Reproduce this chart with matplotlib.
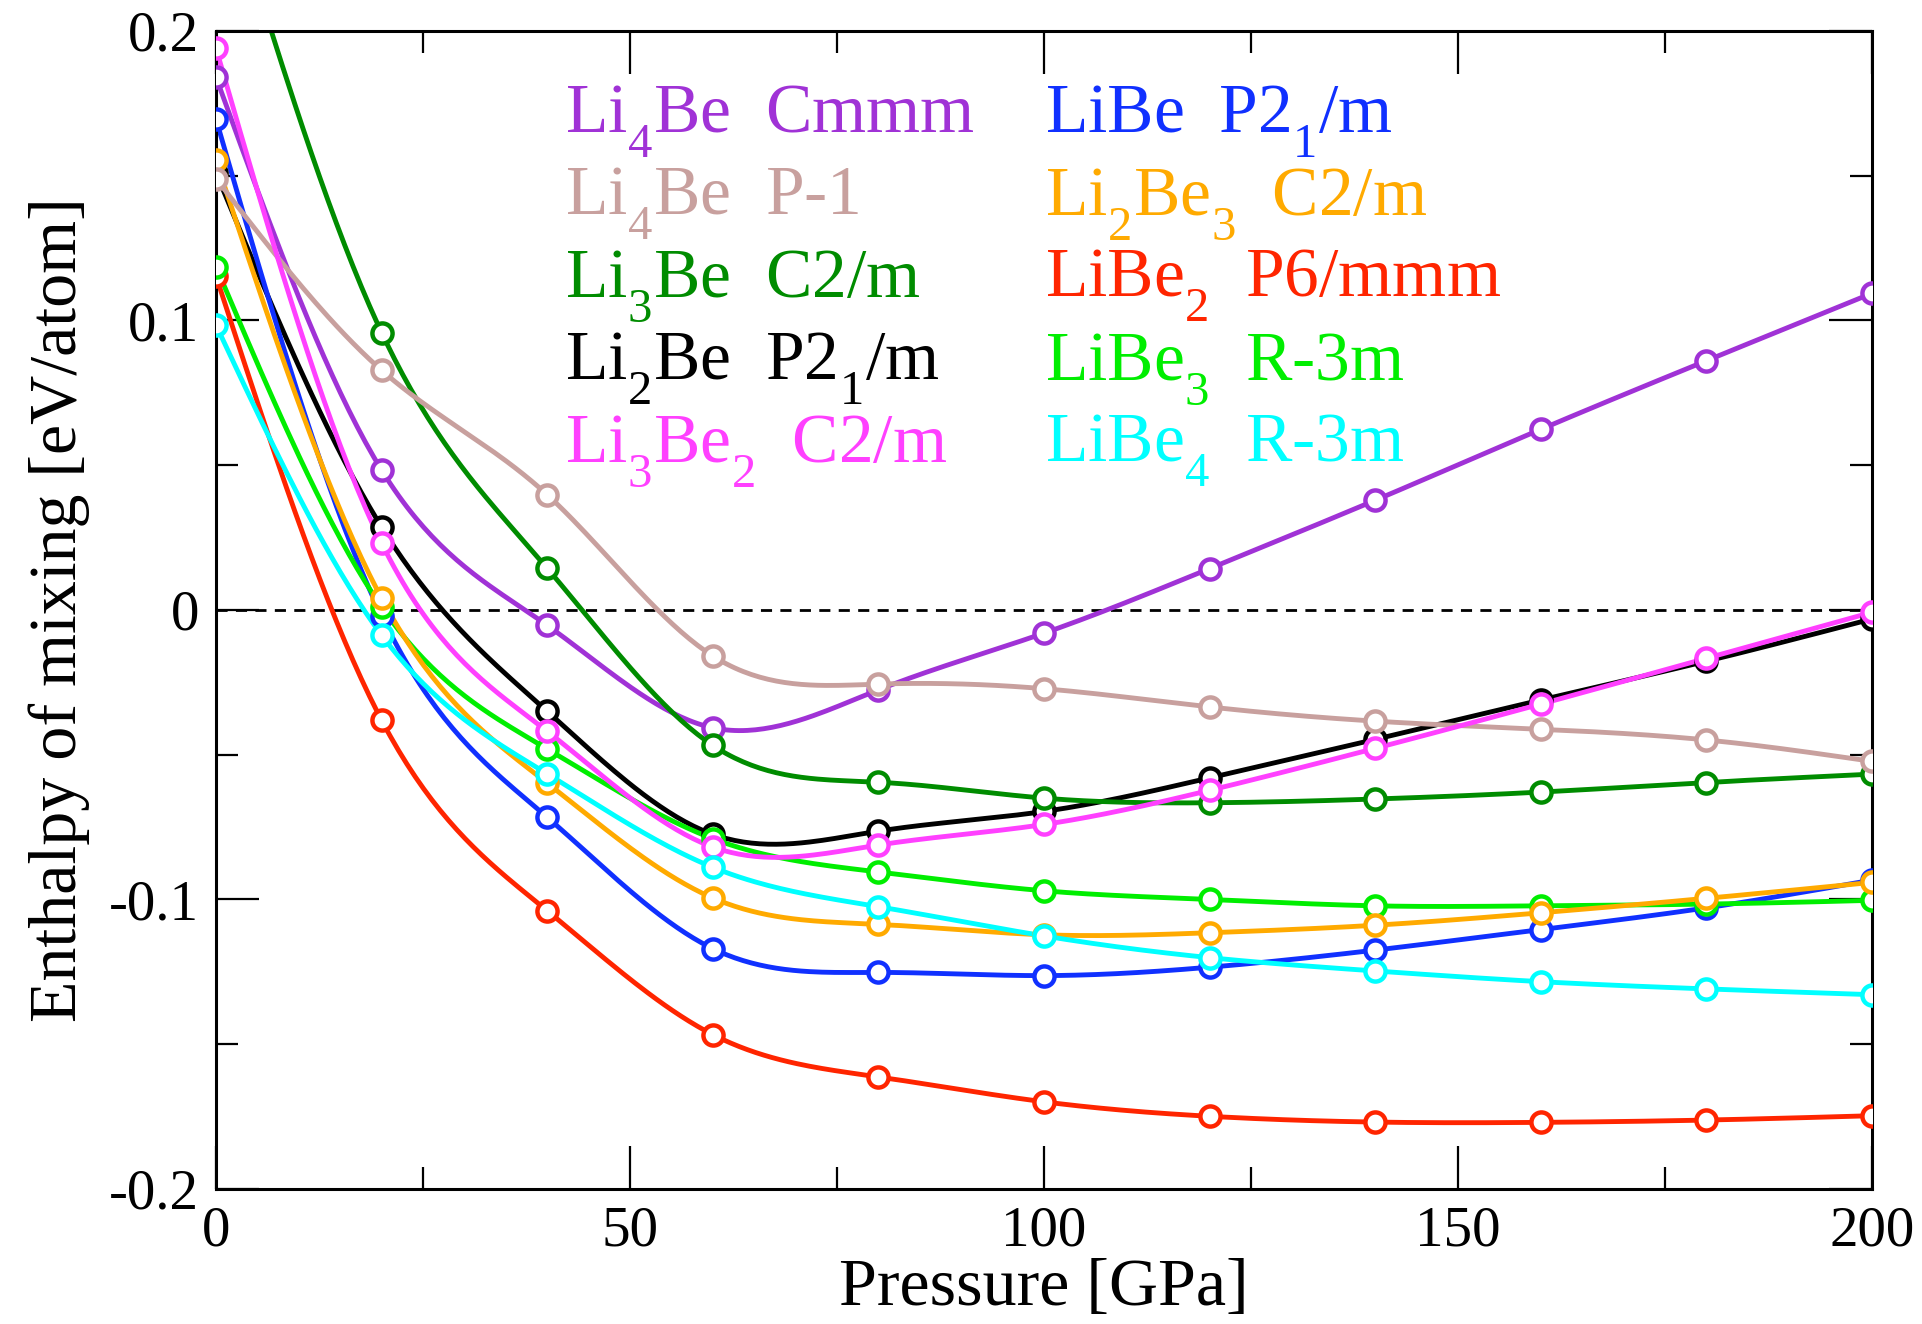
import numpy as np
import matplotlib
matplotlib.use('Agg')
import matplotlib.pyplot as plt

plt.rcParams['font.family'] = ['Liberation Serif', 'STIXGeneral']
plt.rcParams['mathtext.fontset'] = 'custom'
plt.rcParams['mathtext.rm'] = 'Liberation Serif'
plt.rcParams['mathtext.it'] = 'Liberation Serif'
plt.rcParams['axes.unicode_minus'] = False

# grace puts subscripts lower than mathtext does
try:
    from matplotlib import _mathtext
    _mathtext.FontConstantsBase.sub1 = 0.8
except Exception:
    pass

# pressure points (GPa)
pressure = [0, 20, 40, 60, 80, 100, 120, 140, 160, 180, 200]

# enthalpy of mixing (eV/atom)
li4be_cmmm = [0.184, 0.0483, -0.0053, -0.0407, -0.0276, -0.008, 0.0143, 0.0379, 0.0624, 0.0861, 0.1094]
li4be_p1 = [0.149, 0.0828, 0.0398, -0.0159, -0.0256, -0.0272, -0.0335, -0.0384, -0.0412, -0.0449, -0.0523]
li3be_c2m = [0.262, 0.0958, 0.0144, -0.0468, -0.0595, -0.065, -0.0666, -0.0653, -0.0629, -0.0596, -0.0567]
li2be_p21m = [0.151, 0.0286, -0.035, -0.0775, -0.0764, -0.0696, -0.058, -0.0447, -0.0311, -0.0177, -0.0031]
li3be2_c2m = [0.194, 0.0231, -0.0419, -0.0819, -0.0812, -0.0741, -0.0623, -0.0478, -0.0325, -0.0167, -0.0008]
libe_p21m = [0.1695, -0.002, -0.0716, -0.117, -0.1252, -0.1263, -0.1234, -0.1175, -0.1104, -0.1029, -0.0933]
li2be3_c2m = [0.1553, 0.004, -0.0598, -0.0995, -0.1086, -0.1122, -0.1115, -0.1089, -0.1046, -0.0996, -0.0941]
libe2_p6mmm = [0.1153, -0.0381, -0.1039, -0.1467, -0.1613, -0.1699, -0.1749, -0.1769, -0.177, -0.1762, -0.1747]
libe3_r3m = [0.1186, 0.001, -0.048, -0.079, -0.0905, -0.097, -0.100, -0.1022, -0.1022, -0.1016, -0.1003]
libe4_r3m = [0.0984, -0.0087, -0.0566, -0.0889, -0.1025, -0.1126, -0.1201, -0.1247, -0.1284, -0.1309, -0.1329]

labels = ['Li$_4$Be  Cmmm', 'Li$_4$Be  P-1', 'Li$_3$Be  C2/m', 'Li$_2$Be  P2$_1$/m',
          'Li$_3$Be$_2$  C2/m', 'LiBe  P2$_1$/m', 'Li$_2$Be$_3$  C2/m', 'LiBe$_2$  P6/mmm',
          'LiBe$_3$  R-3m', 'LiBe$_4$  R-3m']
series = [li4be_cmmm, li4be_p1, li3be_c2m, li2be_p21m, li3be2_c2m,
          libe_p21m, li2be3_c2m, libe2_p6mmm, libe3_r3m, libe4_r3m]
colors = ['#a032d6', '#c8a09e', '#008c00', '#000000', '#ff40ff',
          '#1030ff', '#ffaa00', '#ff2500', '#00ee00', '#00ffff']

# drawing order (bottom to top)
order = [3, 0, 2, 5, 7, 8, 6, 1, 4, 9]


def spline(x, y, n=400):
    # natural cubic spline through the points
    x = np.asarray(x, float)
    y = np.asarray(y, float)
    m = len(x)
    h = np.diff(x)
    A = np.zeros((m, m))
    b = np.zeros(m)
    A[0, 0] = 1
    A[-1, -1] = 1
    for i in range(1, m - 1):
        A[i, i - 1] = h[i - 1]
        A[i, i] = 2 * (h[i - 1] + h[i])
        A[i, i + 1] = h[i]
        b[i] = 6 * ((y[i + 1] - y[i]) / h[i] - (y[i] - y[i - 1]) / h[i - 1])
    M = np.linalg.solve(A, b)
    xs = np.linspace(x[0], x[-1], n)
    k = np.clip(np.searchsorted(x, xs) - 1, 0, m - 2)
    t0 = x[k + 1] - xs
    t1 = xs - x[k]
    hk = h[k]
    ys = (M[k] * t0 ** 3 / (6 * hk) + M[k + 1] * t1 ** 3 / (6 * hk)
          + (y[k] / hk - M[k] * hk / 6) * t0 + (y[k + 1] / hk - M[k + 1] * hk / 6) * t1)
    return xs, ys


fig = plt.figure(figsize=(19.22, 13.24), dpi=100)
ax = fig.add_axes([0.1124, 0.102, 0.8616, 0.8746])

ax.axhline(0, color='black', lw=2, ls=(0, (4, 3)), zorder=1)

for i in order:
    xs, ys = spline(pressure, series[i])
    ax.plot(xs, ys, color=colors[i], lw=3.5, zorder=2)
    ax.plot(pressure, series[i], 'o', color=colors[i], mfc='white', ms=14.5, mew=3.2, zorder=3)

ax.set_xlim(0, 200)
ax.set_ylim(-0.2, 0.2)
ax.set_xticks([0, 50, 100, 150, 200])
ax.set_xticks([25, 75, 125, 175], minor=True)
ax.set_yticks([-0.2, -0.1, 0, 0.1, 0.2])
ax.set_yticklabels(['-0.2', '-0.1', '0', '0.1', '0.2'])
ax.set_yticks([-0.15, -0.05, 0.05, 0.15], minor=True)
ax.tick_params(which='both', direction='in', top=True, right=True, width=1.6, labelsize=41)
ax.tick_params(which='major', length=31, pad=12)
ax.tick_params(which='minor', length=16)
for s in ax.spines.values():
    s.set_linewidth(2.2)

ax.set_xlabel('Pressure [GPa]', fontsize=49, labelpad=0)
ax.set_ylabel('Enthalpy of mixing [eV/atom]', fontsize=49, labelpad=14)

# colored text legend in two columns
for j in range(10):
    col = j // 5
    row = j % 5
    ax.text(0.2106 + col * 0.2902, 0.9128 - row * 0.0711, labels[j], color=colors[j],
            fontsize=50, transform=ax.transAxes, va='baseline', ha='left')

fig.savefig('out.png', dpi=100)
